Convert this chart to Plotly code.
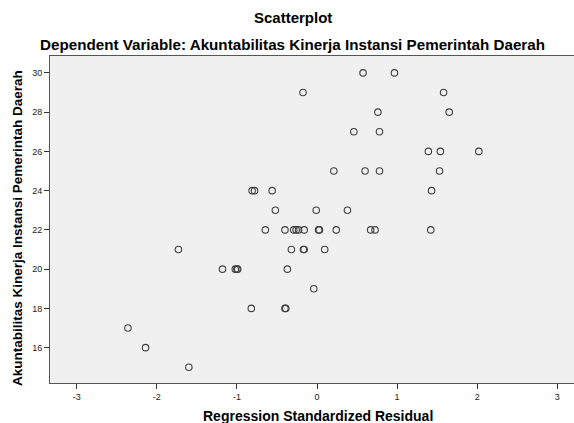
import plotly.graph_objects as go

# Regression standardized residual (x) vs dependent variable value (y)
residuals = [
    0.575, 0.967,
    -0.175, 1.58,
    0.76, 1.65,
    0.46, 0.78,
    1.39, 1.54, 2.02,
    0.21, 0.60, 0.78, 1.53,
    -0.81, -0.78, -0.56, 1.43,
    -0.52, -0.01, 0.38,
    -0.645, -0.40, -0.29, -0.26, -0.23, -0.16, 0.02, 0.03, 0.24, 0.67, 0.725, 1.42,
    -1.73, -0.32, -0.17, -0.16, 0.096,
    -1.18, -1.02, -1.00, -0.99, -0.37,
    -0.04,
    -0.82, -0.40, -0.39,
    -2.36,
    -2.14,
    -1.60,
]
akip = [
    30, 30,
    29, 29,
    28, 28,
    27, 27,
    26, 26, 26,
    25, 25, 25, 25,
    24, 24, 24, 24,
    23, 23, 23,
    22, 22, 22, 22, 22, 22, 22, 22, 22, 22, 22, 22,
    21, 21, 21, 21, 21,
    20, 20, 20, 20, 20,
    19,
    18, 18, 18,
    17,
    16,
    15,
]
x_ticks = [-3, -2, -1, 0, 1, 2, 3]
y_ticks = [16, 18, 20, 22, 24, 26, 28, 30]

title_main = "Scatterplot"
title_sub = "Dependent Variable: Akuntabilitas Kinerja Instansi Pemerintah Daerah"
x_title = "Regression Standardized Residual"
y_title = "Akuntabilitas Kinerja Instansi Pemerintah Daerah"

FONT = "Liberation Sans, Arial, sans-serif"

L, R, T, B = 50, 0, 56, 40
W, H = 574, 423
PW, PH = W - L - R, H - T - B


def px_x(p):
    return (p - L) / PW


def px_y(p):
    return (H - B - p) / PH


fig = go.Figure()
fig.add_trace(go.Scatter(
    x=residuals, y=akip, mode="markers",
    marker=dict(symbol="circle-open", size=6.5, color="#404040",
                line=dict(width=1.1, color="#404040")),
    hoverinfo="x+y", showlegend=False,
))

fig.update_layout(
    width=W, height=H,
    margin=dict(l=L, r=R, t=T, b=B, autoexpand=False),
    paper_bgcolor="white",
    plot_bgcolor="#f0f0f0",
    font=dict(family=FONT, size=9, color="#222222"),
    annotations=[
        dict(text="<b>%s</b>" % title_main, xref="paper", yref="paper",
             x=px_x(293), y=px_y(18), xanchor="center", yanchor="middle",
             showarrow=False, font=dict(family=FONT, size=15, color="#000000")),
        dict(text="<b>%s</b>" % title_sub, xref="paper", yref="paper",
             x=px_x(292), y=px_y(45), xanchor="center", yanchor="middle",
             showarrow=False, font=dict(family=FONT, size=15.2, color="#000000")),
        dict(text="<b>%s</b>" % x_title, xref="paper", yref="paper",
             x=px_x(318), y=px_y(416), xanchor="center", yanchor="middle",
             showarrow=False, font=dict(family=FONT, size=14, color="#000000")),
        dict(text="<b>%s</b>" % y_title, xref="paper", yref="paper",
             x=px_x(17), y=px_y(228), xanchor="center", yanchor="middle",
             textangle=-90,
             showarrow=False, font=dict(family=FONT, size=13.5, color="#000000")),
    ],
    xaxis=dict(
        range=[-3.333, 3.208], tickvals=x_ticks, ticktext=[str(v) for v in x_ticks],
        showgrid=False, zeroline=False, automargin=False,
        showline=True, linecolor="#555555", linewidth=1, mirror=True,
        ticks="outside", ticklen=5, tickcolor="#333333",
        tickfont=dict(family=FONT, size=9, color="#222222"),
    ),
    yaxis=dict(
        range=[14.2, 30.86], tickvals=y_ticks, ticktext=[str(v) for v in y_ticks],
        showgrid=False, zeroline=False, automargin=False,
        showline=True, linecolor="#555555", linewidth=1,
        ticks="outside", ticklen=5, tickcolor="#333333",
        tickfont=dict(family=FONT, size=9, color="#222222"),
    ),
)

fig.write_html(
    "out.html",
    config={"displayModeBar": False},
    post_script="document.body.style.margin='0';document.body.style.overflow='hidden';",
)
